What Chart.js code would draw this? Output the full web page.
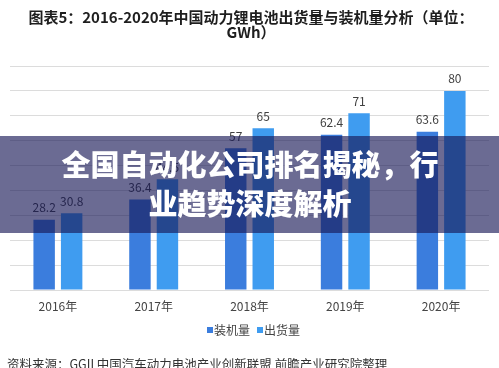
<!DOCTYPE html>
<html><head><meta charset="utf-8">
<script src="https://cdn.jsdelivr.net/npm/chart.js@4/dist/chart.umd.min.js"></script>
<style>html,body{margin:0;padding:0;background:#fff;overflow:hidden}canvas{display:block}</style>
</head><body>
<canvas id="c" width="499" height="368"></canvas>
<script>
const categories = ["2016年","2017年","2018年","2019年","2020年"];
const installed = [28.2, 36.4, 57, 62.4, 63.6];   // 装机量
const shipped   = [30.8, 44.5, 65, 71, 80];      // 出货量
const seriesNames = ["装机量","出货量"];
const titleLines = ["图表5：2016-2020年中国动力锂电池出货量与装机量分析（单位：","GWh）"];
const bannerLines = ["全国自动化公司排名揭秘，行","业趋势深度解析"];
const sourceText = "资料来源：GGII 中国汽车动力电池产业创新联盟 前瞻产业研究院整理";
const colors = ["#3b7ddd","#3f9cf0"];
const FONT = '"Noto Sans CJK SC","Noto Sans",sans-serif';

const deco = {
  id:'deco',
  afterDatasetsDraw(chart){
    const ctx = chart.ctx;
    ctx.save();
    ctx.font = '12px ' + FONT;
    ctx.fillStyle = '#404040';
    ctx.textAlign = 'center';
    ctx.textBaseline = 'middle';
    chart.data.datasets.forEach((ds, di) => {
      chart.getDatasetMeta(di).data.forEach((bar, i) => {
        ctx.fillText(String(ds.data[i]), bar.x, bar.y - 12);
      });
    });
    ctx.restore();
  },
  afterDraw(chart){
    const ctx = chart.ctx;
    const W = chart.width;
    ctx.save();
    // title
    ctx.fillStyle = '#1e1e1e';
    ctx.textAlign = 'center';
    ctx.textBaseline = 'middle';
    ctx.font = 'bold 15px ' + FONT;
    ctx.fillText(titleLines[0], 251, 17);
    ctx.fillText(titleLines[1], 251, 32);
    // legend
    ctx.font = '12px ' + FONT;
    ctx.textAlign = 'left';
    ctx.fillStyle = colors[0];
    ctx.fillRect(207, 327, 6, 6);
    ctx.fillStyle = '#444';
    ctx.fillText(seriesNames[0], 214, 330);
    ctx.fillStyle = colors[1];
    ctx.fillRect(257, 327, 6, 6);
    ctx.fillStyle = '#444';
    ctx.fillText(seriesNames[1], 264, 330);
    // source
    ctx.font = '12.5px ' + FONT;
    ctx.fillStyle = '#333';
    ctx.fillText(sourceText, 7, 364);
    // banner
    ctx.fillStyle = 'rgba(23,23,86,0.64)';
    ctx.fillRect(0, 136, W, 97);
    ctx.fillStyle = '#ffffff';
    ctx.textAlign = 'center';
    ctx.font = '900 29px ' + FONT;
    ctx.fillText(bannerLines[0], 250, 165);
    ctx.fillText(bannerLines[1], 250, 204);
    ctx.restore();
  }
};

new Chart(document.getElementById('c'), {
  type: 'bar',
  data: {
    labels: categories,
    datasets: [
      {label: seriesNames[0], data: installed, backgroundColor: colors[0], categoryPercentage: 0.574, barPercentage: 0.78},
      {label: seriesNames[1], data: shipped, backgroundColor: colors[1], categoryPercentage: 0.574, barPercentage: 0.78}
    ]
  },
  options: {
    responsive: false,
    animation: false,
    events: [],
    layout: {padding: {left: 10, right: 10, top: 66, bottom: 0}},
    plugins: {legend: {display: false}, tooltip: {enabled: false}},
    scales: {
      x: {
        grid: {display: false, drawTicks: false},
        border: {display: false},
        ticks: {color: '#444', font: {size: 12, family: FONT}, padding: 9},
        afterFit(s){ s.height = 78; }
      },
      y: {
        min: 0, max: 90,
        ticks: {display: false, stepSize: 10},
        grid: {color: '#dcdcdc', lineWidth: 1, drawTicks: false},
        border: {display: false},
        afterFit(s){ s.width = 0; }
      }
    }
  },
  plugins: [deco]
});
</script>
</body></html>
